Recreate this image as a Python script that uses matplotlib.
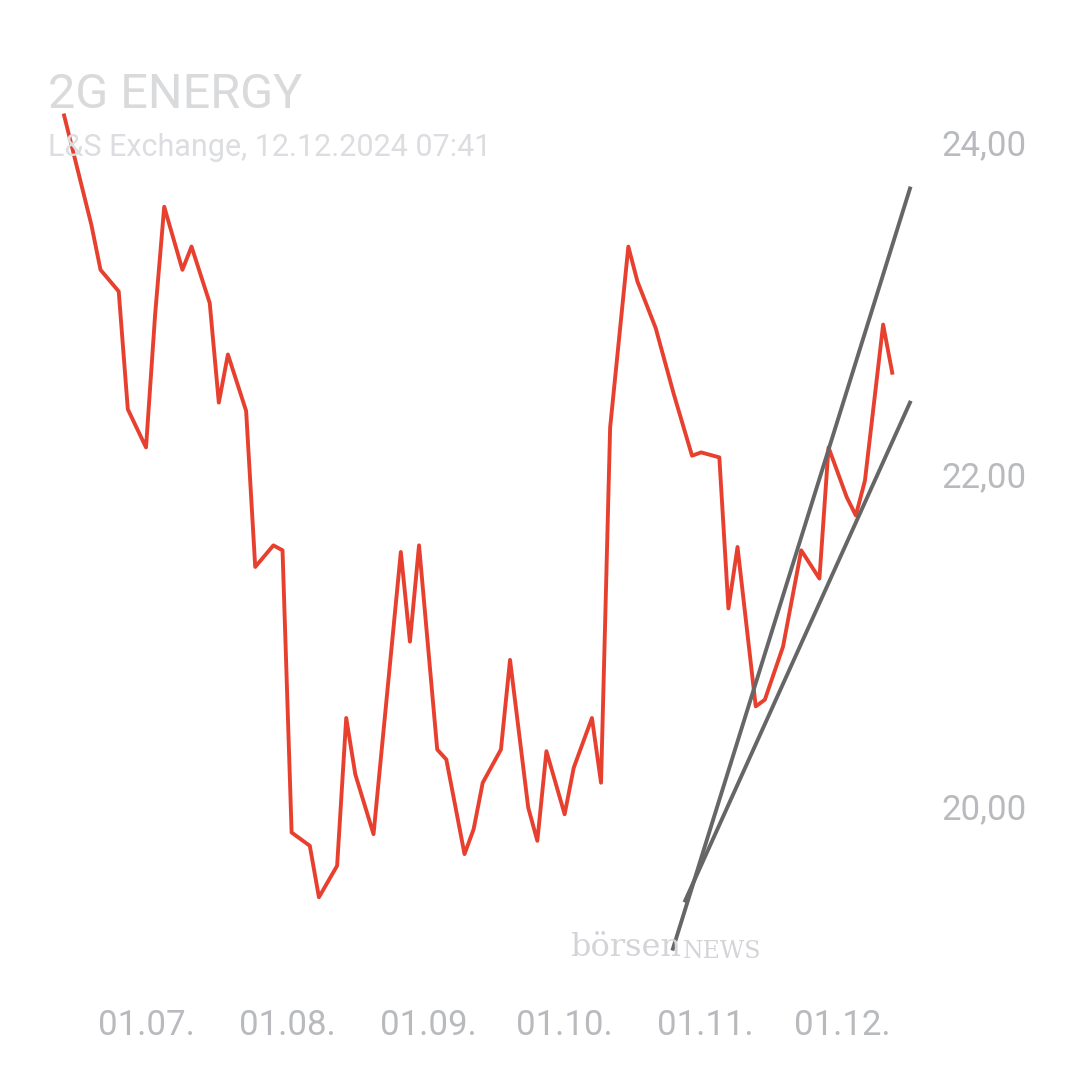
import matplotlib
matplotlib.use("Agg")
import matplotlib.pyplot as plt
plt.rcParams['font.family'] = ['Roboto', 'DejaVu Sans']

# day offsets from 2024-07-01
days = [-18,-12,-10,-6,-4,0,2,4,8,10,14,16,18,22,24,28,30,32,36,38,42,44,46,50,56,58,60,64,66,70,72,74,78,80,84,86,88,92,94,98,100,102,106,108,112,116,120,122,126,128,130,134,136,140,144,148,150,154,156,158,162,164]
price = [24.16,23.50,23.23,23.10,22.39,22.16,22.96,23.61,23.23,23.37,23.03,22.43,22.72,22.38,21.44,21.57,21.54,19.84,19.76,19.45,19.64,20.53,20.19,19.83,21.53,20.99,21.57,20.34,20.28,19.71,19.86,20.14,20.34,20.88,19.99,19.79,20.33,19.95,20.23,20.53,20.14,22.28,23.37,23.16,22.88,22.48,22.11,22.13,22.10,21.19,21.56,20.60,20.64,20.96,21.54,21.37,22.16,21.86,21.75,21.96,22.90,22.61]
trend1_x = [115.8, 167.9]; trend1_y = [19.14, 23.72]
trend2_x = [118.5, 167.9]; trend2_y = [19.43, 22.43]
xtick_pos = [0,31,62,92,123,153]
xtick_lab = ["01.07.","01.08.","01.09.","01.10.","01.11.","01.12."]
ytick_pos = [20,22,24]
ytick_lab = ["20,00","22,00","24,00"]

fig = plt.figure(figsize=(10.8,10.8), dpi=100)
ax = fig.add_axes([40/1080, 120/1080, 890/1080, 860/1080])
ax.plot(days, price, color="#e8402f", lw=2.8)
ax.plot(trend1_x, trend1_y, color="#666666", lw=2.8)
ax.plot(trend2_x, trend2_y, color="#666666", lw=2.8)
ax.set_xlim(-23.3, 172.3)
ax.set_ylim(19.072, 24.253)
for s in ax.spines.values(): s.set_visible(False)
ax.set_xticks(xtick_pos, xtick_lab)
ax.set_yticks(ytick_pos, ytick_lab)
ax.yaxis.tick_right()
ax.tick_params(length=0, colors="#b8babd", labelsize=25)
ax.tick_params(axis="x", pad=35)
ax.tick_params(axis="y", pad=8)
fig.text(48/1080, 1-95/1080, "2G ENERGY", fontsize=35, color="#d9dadc", va="center")
fig.text(48/1080, 1-147/1080, "L&S Exchange, 12.12.2024 07:41", fontsize=22, color="#dcdde0", va="center")
fig.text(570/1080, 1-948/1080, "börsen", fontsize=23, color="#d2d4d8", family="DejaVu Serif", va="center")
fig.text(683/1080, 1-951/1080, "NEWS", fontsize=17, color="#d2d4d8", family="DejaVu Serif", va="center")
fig.savefig("out.png", dpi=100)
